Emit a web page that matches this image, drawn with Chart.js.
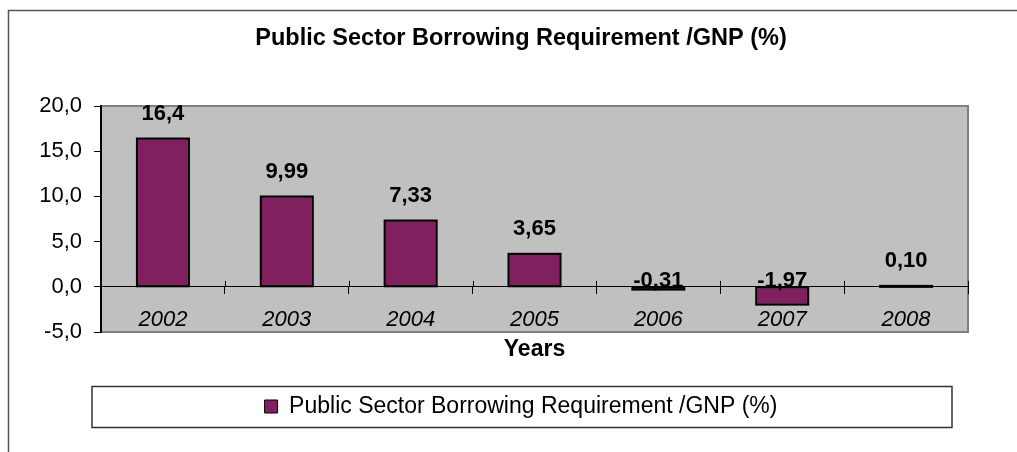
<!DOCTYPE html>
<html>
<head>
<meta charset="utf-8">
<script src="https://cdn.jsdelivr.net/npm/chart.js@4/dist/chart.umd.min.js"></script>
<style>
	body{ margin:0; background:#fff; }
	#wrap{ width:1017px; height:452px; }
</style>
</head>
<body>
<div id="wrap"><canvas id="psbr" width="1017" height="452"></canvas></div>
<script>
const years = ["2002", "2003", "2004", "2005", "2006", "2007", "2008"];
const borrowing = [16.4, 9.99, 7.33, 3.65, -0.31, -1.97, 0.10];
const labelDecimals = [1, 2, 2, 2, 2, 2, 2];	//cifre decimali delle etichette
const Y_MIN = -5, Y_MAX = 20, Y_STEP = 5;

const SERIES_NAME = "Public Sector Borrowing Requirement /GNP (%)";
const BAR_COLOR = "#80205f";
const FONT = "'Liberation Sans', Arial, sans-serif";

Chart.defaults.font.family = FONT;
Chart.defaults.color = "#000";

const comma = (v, d) => v.toFixed(d).replace('.', ',');

//Sfondo grigio dell'area del grafico e cornice esterna.
const frame = {
	id: "frame",
	beforeDraw(chart){
		const {ctx, chartArea: a} = chart;
		ctx.save();
		ctx.strokeStyle = "#555";
		ctx.lineWidth = 1.5;
		ctx.strokeRect(8.5, 10.5, chart.width + 20, chart.height + 20);

		ctx.fillStyle = "#c0c0c0";
		ctx.fillRect(a.left, a.top, a.right - a.left, a.bottom - a.top);
		ctx.strokeStyle = "#808080";
		ctx.lineWidth = 2;
		ctx.strokeRect(a.left, a.top, a.right - a.left, a.bottom - a.top);
		ctx.restore();
	},
	afterDraw(chart){
		const {ctx, chartArea: a, legend} = chart;
		const x = chart.scales.x;
		const zero = chart.scales.y.getPixelForValue(0);
		const half = (x.getPixelForValue(1) - x.getPixelForValue(0)) / 2;

		ctx.save();
		//Tacche dell'asse x anche sopra la linea dello zero.
		ctx.strokeStyle = "#000";
		ctx.lineWidth = 1;
		for(let i=0; i<=years.length; i++){
			const px = Math.round(x.getPixelForValue(i) - half) + 0.5;
			ctx.beginPath();
			ctx.moveTo(px, zero - 6);
			ctx.lineTo(px, zero);
			ctx.stroke();
		}

		//Riquadro della legenda.
		ctx.strokeStyle = "#333";
		ctx.lineWidth = 1.5;
		ctx.strokeRect(a.left - 9, Math.round(legend.top) + 1.5, (a.right - a.left) - 7, 41);
		ctx.restore();
	}
};

//Bordi delle barre ed etichette con i valori.
const barLabels = {
	id: "barLabels",
	afterDatasetsDraw(chart){
		const {ctx} = chart;
		const y = chart.scales.y;
		const zero = y.getPixelForValue(0);
		const bars = chart.getDatasetMeta(0).data;

		ctx.save();
		ctx.strokeStyle = "#000";
		ctx.lineWidth = 2;
		bars.forEach(b => {
			const top = Math.min(b.y, b.base);
			ctx.strokeRect(b.x - b.width / 2, top, b.width, Math.max(Math.abs(b.base - b.y), 1));
		});

		ctx.font = "bold 22px " + FONT;
		ctx.fillStyle = "#000";
		ctx.textAlign = "center";
		ctx.textBaseline = "middle";
		bars.forEach((b, i) => {
			const v = borrowing[i];
			const ly = v >= 0 ? y.getPixelForValue(v) - 25 : zero - 6;
			ctx.fillText(comma(v, labelDecimals[i]), b.x, ly);
		});
		ctx.restore();
	}
};

new Chart(document.getElementById("psbr"), {
	type: "bar",
	data: {
		labels: years,
		datasets: [{
			label: SERIES_NAME,
			data: borrowing,
			backgroundColor: BAR_COLOR,
			borderColor: "#000",
			borderWidth: 1,
			borderSkipped: false,
			categoryPercentage: 1,
			barPercentage: 0.42
		}]
	},
	options: {
		responsive: false,
		animation: false,
		layout: { padding: { left: 40, right: 15, top: 0, bottom: 24 } },
		plugins: {
			title: {
				display: true,
				text: SERIES_NAME,
				color: "#000",
				font: { size: 23.5, weight: "bold" },
				padding: { top: 24.9, bottom: 52.9 }
			},
			legend: {
				position: "bottom",
				labels: {
					color: "#000",
					font: { size: 23 },
					boxWidth: 13,
					boxHeight: 13,
					padding: 10
				}
			},
			tooltip: { enabled: false }
		},
		scales: {
			y: {
				min: Y_MIN,
				max: Y_MAX,
				afterFit(scale){ scale.width = 61; },
				ticks: {
					stepSize: Y_STEP,
					padding: 12,
					font: { size: 22 },
					color: "#000",
					callback: v => comma(v, 1)
				},
				grid: { drawOnChartArea: false, drawTicks: true, tickLength: 7, color: "#000" },
				border: { color: "#000", width: 2 }
			},
			//asse vuoto a destra, solo per lo spazio
			y2: {
				type: "linear",
				position: "right",
				display: true,
				afterFit(scale){ scale.width = 34; },
				ticks: { display: false },
				grid: { display: false, drawTicks: false },
				border: { display: false }
			},
			x: {
				position: { y: 0 },
				ticks: { padding: 13, font: { size: 22, style: "italic" }, color: "#000", maxRotation: 0 },
				grid: { offset: true, drawOnChartArea: false, drawTicks: true, tickLength: 7, color: "#000" },
				border: { color: "#000", width: 1 }
			},
			x2: {
				type: "category",
				position: "bottom",
				labels: years,
				grid: { display: false, drawTicks: false },
				border: { display: false },
				ticks: { display: false },
				title: {
					display: true,
					text: "Years",
					color: "#000",
					font: { size: 23, weight: "bold" },
					padding: { top: 4.2, bottom: 21.2 }
				}
			}
		}
	},
	plugins: [frame, barLabels]
});
</script>
</body>
</html>
